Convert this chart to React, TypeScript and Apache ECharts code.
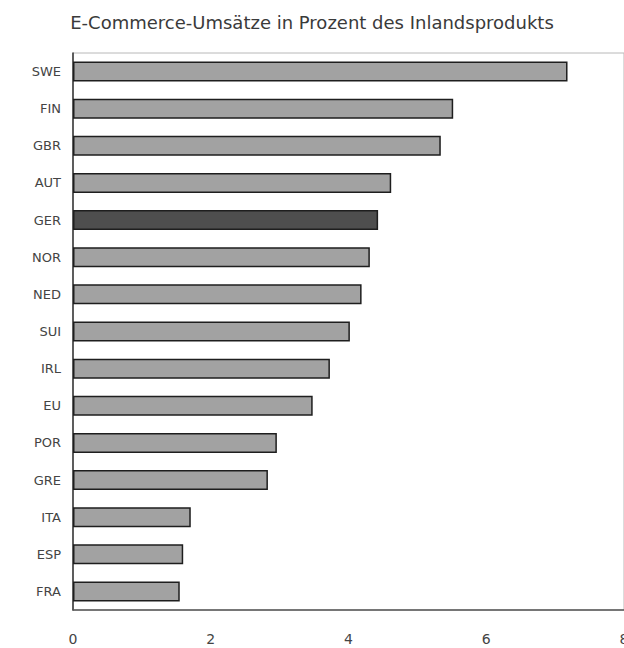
import React, { useEffect, useRef } from "react";
import * as echarts from "echarts";

const titleText = "E-Commerce-Umsätze in Prozent des Inlandsprodukts";
const categories = ["SWE", "FIN", "GBR", "AUT", "GER", "NOR", "NED", "SUI", "IRL", "EU", "POR", "GRE", "ITA", "ESP", "FRA"];
const values = [7.18, 5.52, 5.34, 4.62, 4.43, 4.31, 4.19, 4.02, 3.73, 3.48, 2.96, 2.83, 1.71, 1.6, 1.55];
const highlight = "GER";
const xMin = 0;
const xMax = 8;
const xInterval = 2;

export default function App() {
  const ref = useRef<HTMLDivElement>(null);
  useEffect(() => {
    if (!ref.current) return;
    const chart = echarts.init(ref.current, undefined, { renderer: "svg" });
    const font = "'DejaVu Sans', Arial, sans-serif";
    chart.setOption({
      animation: false,
      backgroundColor: "#ffffff",
      title: {
        text: titleText,
        left: "center",
        top: 8,
        textStyle: { fontFamily: font, fontSize: 18, fontWeight: "normal", color: "#3a3a3a" },
      },
      grid: {
        left: 73,
        right: 0,
        top: 53,
        bottom: 38,
        show: true,
        borderColor: "#b8b8b8",
        borderWidth: 1,
        outerBoundsMode: "none",
        containLabel: false,
      },
      xAxis: {
        type: "value",
        min: xMin,
        max: xMax,
        interval: xInterval,
        splitLine: { show: false },
        axisLine: { show: true, lineStyle: { color: "#555", width: 1.5 } },
        axisTick: { show: false },
        axisLabel: { fontFamily: font, fontSize: 14, color: "#444", margin: 22 },
      },
      yAxis: {
        type: "category",
        data: categories,
        inverse: true,
        axisLine: { show: true, lineStyle: { color: "#333", width: 1.5 } },
        axisTick: { show: false },
        axisLabel: { fontFamily: font, fontSize: 13, color: "#444", margin: 12 },
      },
      series: [
        {
          type: "bar",
          barWidth: 20,
          data: values.map((v, i) => ({
            value: v,
            itemStyle: {
              color: categories[i] === highlight ? "#4e4e4e" : "#a2a2a2",
              borderColor: "#1e1e1e",
              borderWidth: 1.5,
            },
          })),
        },
      ],
    });
    return () => chart.dispose();
  }, []);
  return <div ref={ref} style={{ position: "fixed", left: 0, top: 0, width: 624, height: 648 }} />;
}
